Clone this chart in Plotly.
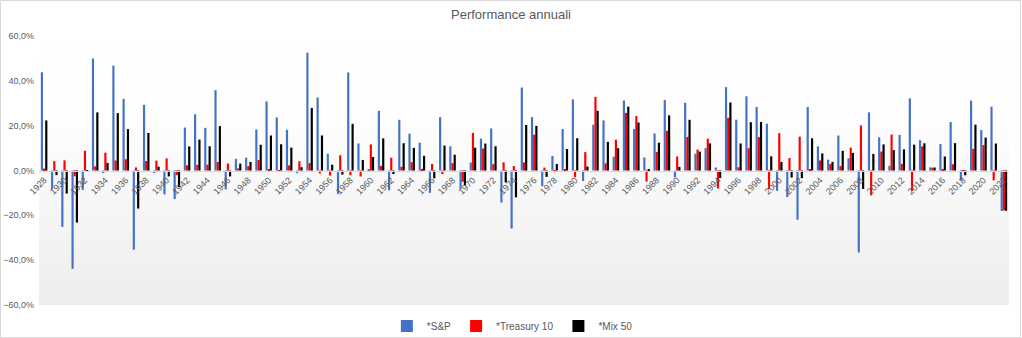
import plotly.graph_objects as go

years = list(range(1928, 2023))

sp500 = [43.81, -8.30, -25.12, -43.84, -8.64, 49.98, -1.19, 46.74, 31.94, -35.34,
         29.28, -1.10, -10.67, -12.77, 19.17, 25.06, 19.03, 35.82, -8.43, 5.20,
         5.70, 18.30, 30.81, 23.68, 18.15, -1.21, 52.56, 32.60, 7.44, -10.46,
         43.72, 12.06, 0.34, 26.64, -8.81, 22.61, 16.42, 12.40, -9.97, 23.80,
         10.81, -8.24, 3.56, 14.22, 18.76, -14.31, -25.90, 37.00, 23.83, -6.98,
         6.51, 18.52, 31.74, -4.70, 20.42, 22.34, 6.15, 31.24, 18.49, 5.81,
         16.54, 31.48, -3.06, 30.23, 7.49, 9.97, 1.33, 37.20, 22.68, 33.10,
         28.34, 20.89, -9.03, -11.85, -21.97, 28.36, 10.74, 4.83, 15.61, 5.48,
         -36.55, 25.94, 14.82, 2.10, 15.89, 32.15, 13.52, 1.38, 11.77, 21.61,
         -4.23, 31.21, 18.02, 28.47, -18.04]

treasury10 = [0.84, 4.20, 4.54, -2.56, 8.79, 1.86, 7.96, 4.47, 5.02, 1.38,
              4.21, 4.41, 5.40, -2.02, 2.29, 2.49, 2.58, 3.80, 3.13, 0.92,
              1.95, 4.66, 0.43, -0.30, 2.27, 4.14, 3.29, -1.34, -2.26, 6.80,
              -2.10, -2.65, 11.64, 2.06, 5.69, 1.68, 3.73, 0.72, 2.91, -1.58,
              3.27, -5.01, 16.75, 9.79, 2.82, 3.66, 1.99, 3.61, 15.98, 1.29,
              -0.78, 0.67, -2.99, 8.20, 32.81, 3.20, 13.73, 25.71, 24.28, -4.96,
              8.22, 17.69, 6.24, 15.00, 9.36, 14.21, -8.04, 23.48, 1.43, 9.94,
              14.92, -8.25, 16.66, 5.57, 15.12, 0.38, 4.49, 2.87, 1.96, 10.21,
              20.10, -11.12, 8.46, 16.04, 2.97, -9.10, 10.75, 1.28, 0.69, 2.80,
              -0.02, 9.64, 11.33, -4.42, -17.83]

mix50 = [22.33, -2.05, -10.29, -23.20, 0.08, 25.92, 3.39, 25.61, 18.48, -16.98,
         16.75, 1.66, -2.64, -7.40, 10.73, 13.78, 10.81, 19.81, -2.65, 3.06,
         3.83, 11.48, 15.62, 11.69, 10.21, 1.47, 27.93, 15.63, 2.59, -1.83,
         20.81, 4.71, 5.99, 14.35, -1.56, 12.15, 10.08, 6.56, -3.53, 11.11,
         7.04, -6.63, 10.16, 12.01, 10.79, -5.33, -11.96, 20.31, 19.91, -2.85,
         2.87, 9.60, 14.38, 1.75, 26.62, 12.77, 9.94, 28.48, 21.39, 0.43,
         12.38, 24.59, 1.59, 22.62, 8.43, 12.09, -3.36, 30.34, 12.06, 21.52,
         21.63, 6.32, 3.82, -3.14, -3.43, 14.37, 7.62, 3.85, 8.79, 7.85,
         -8.23, 7.41, 11.64, 9.07, 9.43, 11.53, 12.14, 1.33, 6.23, 12.21,
         -2.13, 20.43, 14.68, 12.03, -17.94]

series_names = ["*S&P", "*Treasury 10", "*Mix 50"]
series_colors = ["#4472C4", "#FF0000", "#000000"]

grad_svg = ("data:image/svg+xml;utf8,"
            "<svg xmlns='http://www.w3.org/2000/svg' width='100' height='100' viewBox='0 0 100 100' preserveAspectRatio='none'>"
            "<defs><linearGradient id='g' x1='0' y1='0' x2='0' y2='1'>"
            "<stop offset='0' stop-color='%23ffffff'/><stop offset='0.3' stop-color='%23fefefe'/>"
            "<stop offset='1' stop-color='%23ededed'/></linearGradient></defs>"
            "<rect x='0' y='0' width='100' height='100' fill='url(%23g)'/></svg>")

fig = go.Figure()
for name, vals, col in zip(series_names, [sp500, treasury10, mix50], series_colors):
    fig.add_trace(go.Bar(x=years, y=vals, name=name, marker=dict(color=col, line=dict(width=0))))

gray = "#595959"
fig.update_layout(
    width=1022, height=338,
    margin=dict(l=39, r=13, t=36, b=33, autoexpand=False),
    paper_bgcolor="white",
    plot_bgcolor="rgba(0,0,0,0)",
    barmode="group",
    bargap=0.36,
    bargroupgap=0,
    separators=",.",
    font=dict(family="Liberation Sans, Arial, sans-serif", color=gray, size=10),
    title=dict(text="Performance annuali", x=0.5, xanchor="center", y=1 - 14 / 338,
               yanchor="middle", yref="container",
               font=dict(size=13, color=gray, family="Liberation Sans, Arial, sans-serif")),
    legend=dict(orientation="h", x=0.488, xanchor="center", y=-0.078, yanchor="middle",
                font=dict(size=10, color=gray), itemwidth=30, tracegroupgap=0,
                bgcolor="rgba(0,0,0,0)"),
    images=[dict(source=grad_svg, xref="paper", yref="paper", x=0, y=1, sizex=1, sizey=1,
                 xanchor="left", yanchor="top", sizing="stretch", layer="below")],
    shapes=[dict(type="rect", xref="paper", yref="paper",
                 x0=-38.5 / 970, x1=1 + 11.5 / 970, y0=-32.5 / 269, y1=1 + 35.5 / 269,
                 line=dict(color="#d9d9d9", width=1), fillcolor="rgba(0,0,0,0)", layer="below")],
)
fig.update_xaxes(
    range=[1927.5, 2022.5], tickmode="linear", tick0=1928, dtick=2, tickangle=-45,
    anchor="free", position=0.5, showline=True, linecolor="#d9d9d9", linewidth=1,
    showgrid=False, zeroline=False, ticks="", tickfont=dict(size=9, color=gray),
    automargin=False,
)
fig.update_yaxes(
    range=[-60, 60], dtick=20, tickformat=".1f", ticksuffix="%", showgrid=False,
    zeroline=False, showline=False, ticks="", tickfont=dict(size=9, color=gray),
    automargin=False, ticklabelstandoff=4,
)

fig.write_html("out.html")
